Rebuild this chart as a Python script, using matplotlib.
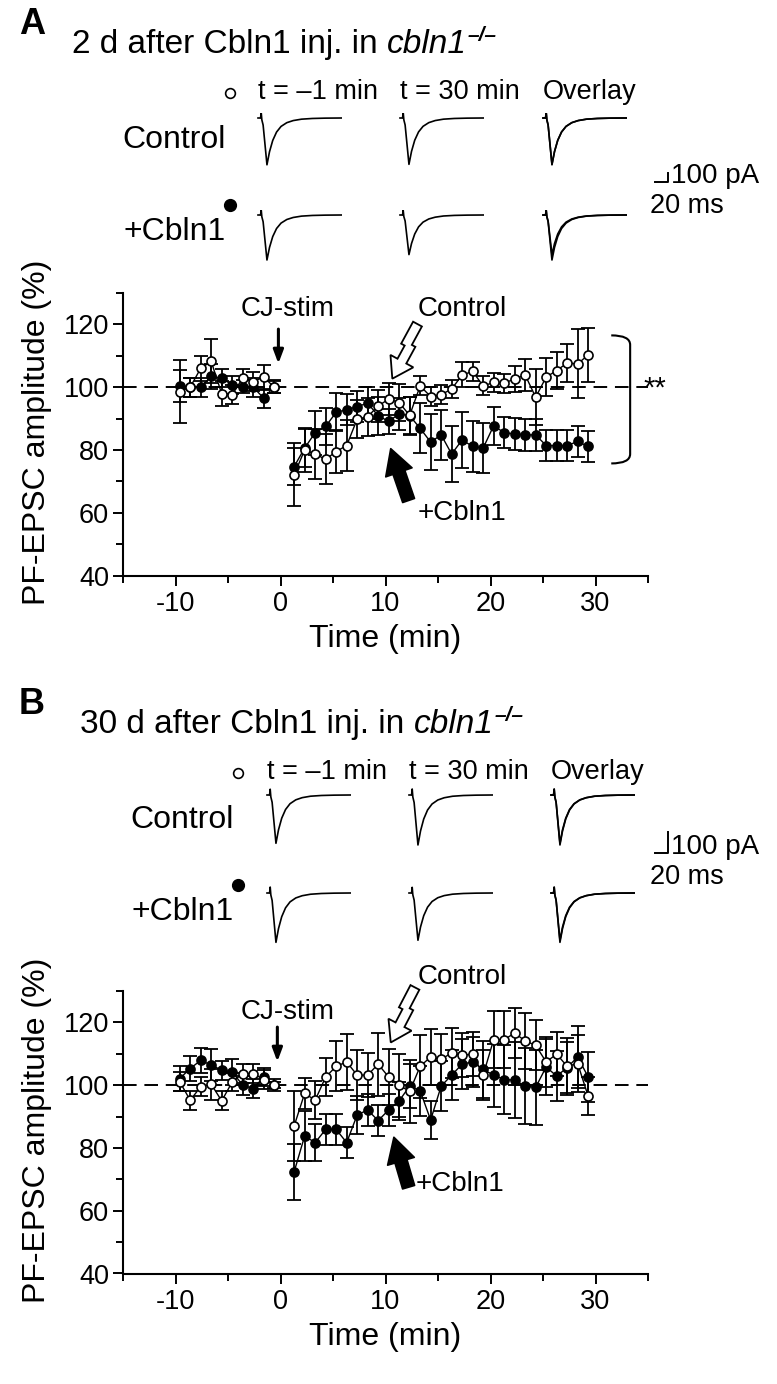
import numpy as np
import matplotlib.pyplot as plt
from matplotlib.path import Path
from matplotlib.patches import PathPatch, Polygon

W, H = 777, 1384
FONT = ['Liberation Sans', 'DejaVu Sans']
plt.rcParams['font.family'] = FONT
plt.rcParams['axes.unicode_minus'] = False

# ---- time points (min) ----
pre_t = [-9.6, -8.6, -7.6, -6.6, -5.6, -4.6, -3.6, -2.6, -1.6, -0.6]
post_t = [1.3, 2.3, 3.3, 4.3, 5.3, 6.3, 7.3, 8.3, 9.3, 10.3, 11.3, 12.3, 13.3, 14.3, 15.3,
          16.3, 17.3, 18.3, 19.3, 20.3, 21.3, 22.3, 23.3, 24.3, 25.3, 26.3, 27.3, 28.3, 29.3]

# ---- panel A (2 d) ----
a_pre_ctrl = [98.6, 100.0, 106.0, 108.2, 97.9, 97.6, 102.9, 101.8, 103.2, 100.0]
a_pre_ctrl_se = [10, 3, 4, 7, 4, 3, 3, 3, 4, 2]
a_pre_cbln = [100.4, 100.0, 100.0, 103.4, 102.9, 100.7, 100.2, 100.0, 96.5, 100.2]
a_pre_cbln_se = [5, 3, 3, 4, 3, 3, 2, 3, 3, 2]
a_ctrl = [72.1, 80.0, 78.7, 77.0, 79.5, 81.4, 89.8, 90.6, 94.0, 96.2, 95.1, 91.0, 100.4, 97.0,
          97.6, 99.4, 103.9, 105.0, 100.4, 101.5, 101.3, 102.6, 103.9, 96.8, 103.2, 105.3,
          107.7, 107.4, 110.3]
a_ctrl_se = [10, 7, 8, 8, 7, 8, 6, 6, 5, 5, 6, 6, 3, 3, 3, 3, 4, 3, 3, 3, 3, 4, 5, 9, 6, 6,
             6, 11, 8.5]
a_cbln = [74.7, 80.6, 85.5, 87.5, 92.0, 92.8, 93.8, 94.9, 90.9, 89.1, 91.5, 90.9, 86.9, 82.5,
          84.8, 78.7, 83.2, 81.1, 80.6, 87.7, 85.5, 85.1, 84.8, 84.8, 81.4, 81.4, 81.4, 82.7,
          81.1]
a_cbln_se = [6, 6, 7, 6, 6, 5, 5, 5, 6, 4, 5, 6, 8, 9, 8, 9, 9, 8, 8, 6, 5, 5, 5, 5, 5, 5,
             5, 5, 5]

# ---- panel B (30 d) ----
b_pre_ctrl = [101.1, 95.2, 99.5, 100.3, 95.0, 101.0, 103.7, 103.7, 101.8, 100.0]
b_pre_ctrl_se = [3, 3, 3, 5, 3, 3, 3, 3, 3, 2]
b_pre_cbln = [102.1, 105.3, 107.9, 106.4, 104.8, 104.2, 100.0, 98.9, 102.6, 100.0]
b_pre_cbln_se = [4, 4, 4, 5, 3, 4, 3, 3, 3, 1]
b_ctrl = [87.0, 97.4, 95.2, 102.6, 106.0, 107.4, 103.2, 103.2, 106.7, 102.6, 100.0, 98.0,
          106.0, 109.0, 108.2, 110.3, 109.5, 109.9, 103.2, 114.5, 114.5, 116.6, 114.1, 112.7,
          107.4, 109.9, 106.0, 106.9, 96.5]
b_ctrl_se = [11, 5, 6, 6, 8, 9, 8, 7, 10, 9, 10, 10, 10, 9, 8, 8, 7, 7, 8, 9, 9, 8, 9, 8, 8,
             7, 9, 9, 6]
b_cbln = [72.4, 83.8, 81.7, 85.9, 85.9, 81.7, 90.5, 92.1, 88.7, 92.1, 95.0, 99.7, 98.2, 88.9,
          99.7, 103.2, 106.7, 107.4, 105.0, 103.2, 101.8, 101.6, 99.7, 99.3, 105.8, 102.9,
          105.6, 109.0, 102.6]
b_cbln_se = [9, 8, 6, 5, 5, 5, 6, 5, 5, 5, 6, 7, 8, 6, 8, 8, 8, 8, 9, 10, 11, 12, 12, 12, 9,
             8, 8, 10, 8]

# ---- example EPSC traces (template) ----
trace_ms = [0, 4, 5, 6, 8, 14, 18, 23, 29, 36, 45, 55, 68, 85, 105, 130]
trace_shape = [0, 0, 0.12, -0.04, -0.15, -1.0, -0.72, -0.48, -0.30, -0.18, -0.10, -0.055,
               -0.025, -0.01, -0.003, 0]
# peak amplitudes (pA) for t = -1 min and t = 30 min
a_ctrl_amp = [520, 515]
a_cbln_amp = [500, 440]
b_ctrl_amp = [230, 238]
b_cbln_amp = [235, 225]

# outline of the hollow "bolt" arrow, px: (distance back from tip, sideways offset)
bolt_u = [0, 20, 20, 35, 35, 60, 60, 39, 39, 20, 20]
bolt_v = [0, 13, 5, 5, 9, 9, -1, -1, -5, -5, -13]

fig = plt.figure(figsize=(W / 100, H / 100), dpi=100)
canvas = fig.add_axes([0, 0, 1, 1], zorder=0)
canvas.set_xlim(0, W)
canvas.set_ylim(H, 0)
canvas.axis('off')


def px_axes(x0, y0, w, h, **kw):
    return fig.add_axes([x0 / W, 1 - (y0 + h) / H, w / W, h / H], **kw)


def bolt_arrow(ax, head, tail):
    hx, hy = ax.transData.transform(head)
    tx, ty = ax.transData.transform(tail)
    d = np.array([tx - hx, ty - hy])
    d = d / np.hypot(*d)
    n = np.array([-d[1], d[0]])
    pts = [(hx + u * d[0] + v * n[0], H - (hy + u * d[1] + v * n[1]))
           for u, v in zip(bolt_u, bolt_v)]
    canvas.add_patch(Polygon(pts, closed=True, fc='white', ec='black', lw=1.3,
                             joinstyle='miter', zorder=6))


def draw_header(letter, title_pre, dy, dx, xcols, base_ctrl, base_cbln, ctrl_amp, cbln_amp,
                pa_px, scale):
    canvas.text(19, 34 + dy, letter, fontsize=26, fontweight='bold', va='baseline')
    t = canvas.text(72 + dx, 53 + dy, title_pre, fontsize=24, va='baseline')
    c = canvas.annotate('cbln1', xycoords=t, xy=(1, 0), va='bottom', fontsize=24,
                        style='italic')
    canvas.annotate('\u2013/\u2013', xycoords=c, xy=(1, 1), xytext=(0.5, 2),
                    textcoords='offset points', va='top', fontsize=15,
                    fontweight='bold', style='italic')
    heads = ['t = \u20131 min', 't = 30 min', 'Overlay']
    for x, s in zip(xcols, heads):
        canvas.text(x, 99 + dy, s, fontsize=19.5, va='baseline')
    canvas.plot([230 + dx], [93 + dy], 'o', ms=7, mfc='white', mec='black', mew=1.2)
    canvas.plot([230 + dx], [205 + dy], 'o', ms=8.5, mfc='black', mec='black')
    canvas.text(226 + dx, 148 + dy, 'Control', fontsize=23, va='baseline', ha='right')
    canvas.text(226 + dx, 240 + dy, '+Cbln1', fontsize=23, va='baseline', ha='right')

    ms_px = 0.64
    for base, amps in ((base_ctrl, ctrl_amp), (base_cbln, cbln_amp)):
        ylo, yhi = -600, 60
        hpx = (yhi - ylo) * pa_px
        for i, x in enumerate(xcols):
            tax = px_axes(x - 3 * ms_px, base + dy - yhi * pa_px, 135 * ms_px, hpx)
            tax.set_xlim(-3, 132)
            tax.set_ylim(ylo, yhi)
            tax.axis('off')
            use = [amps[i]] if i < 2 else amps
            for a in use:
                tax.plot(trace_ms, [a * s for s in trace_shape], color='black', lw=1.2)

    sx, sy = scale
    sy = sy + dy
    sax = px_axes(sx, sy - 100 * pa_px, 20 * ms_px, 100 * pa_px)
    sax.set_xlim(0, 20)
    sax.set_ylim(0, 100)
    sax.axis('off')
    sax.plot([0, 20, 20], [0, 0, 100], color='black', lw=1.4, clip_on=False)
    canvas.text(sx + 20 * ms_px + 3, sy + 1, '100 pA', fontsize=20, va='baseline')
    canvas.text(sx - 5, sy + 31, '20 ms', fontsize=19.5, va='baseline')


def draw_series(ax, pre_y, pre_e, post_y, post_e, filled):
    fc = 'black' if filled else 'white'
    for tt, yy, ee in ((pre_t, pre_y, pre_e), (post_t, post_y, post_e)):
        ax.errorbar(tt, yy, yerr=ee, fmt='none', ecolor='black', elinewidth=1.3,
                    capsize=5, capthick=1.3, zorder=3)
        ax.plot(tt, yy, '-o', color='black', lw=1.0, ms=6.5, mfc=fc, mec='black',
                mew=1.2, zorder=4 if filled else 5)


def draw_panel(y_top, pre_c, pre_ce, post_c, post_ce, pre_b, pre_be, post_b, post_be,
               arrows, bracket):
    ax = px_axes(123, y_top, 525, 282.5, zorder=2)
    ax.patch.set_alpha(0)
    ax.set_xlim(-15, 35)
    ax.set_ylim(40, 130)
    for s in ('top', 'right'):
        ax.spines[s].set_visible(False)
    for s in ('left', 'bottom'):
        ax.spines[s].set_linewidth(1.5)
    ax.set_xticks([-10, 0, 10, 20, 30])
    ax.set_xticks([-15, -5, 5, 15, 25, 35], minor=True)
    ax.set_yticks([40, 60, 80, 100, 120])
    ax.set_yticks([50, 70, 90, 110, 130], minor=True)
    ax.tick_params(axis='y', which='major', length=7, width=1.4, labelsize=19.5, pad=3)
    ax.tick_params(axis='x', which='major', length=7, width=1.4, labelsize=19.5, pad=4)
    ax.tick_params(which='minor', length=5, width=1.4)
    ax.axhline(100, color='black', lw=1.4, dashes=(7, 4), zorder=1)

    draw_series(ax, pre_b, pre_be, post_b, post_be, True)
    draw_series(ax, pre_c, pre_ce, post_c, post_ce, False)

    (cj_xy, cj_txt), (c_tail, c_head, c_txt), (b_tail, b_head, b_txt) = arrows
    ax.annotate('', xy=(cj_xy, 107.5), xytext=(cj_xy, 118.5),
                arrowprops=dict(arrowstyle='-|>,head_length=0.8,head_width=0.3',
                                color='black', lw=2.2, shrinkA=0, shrinkB=0))
    ax.text(cj_txt[0], cj_txt[1], 'CJ-stim', fontsize=20, ha='center', va='center')
    bolt_arrow(ax, c_head, c_tail)
    ax.text(c_txt[0], c_txt[1], 'Control', fontsize=20, ha='center', va='center',
            clip_on=False)
    ax.annotate('', xy=b_head, xytext=b_tail, annotation_clip=False,
                arrowprops=dict(arrowstyle='simple,head_length=0.9,head_width=1.0,tail_width=0.45',
                                fc='black', ec='black', lw=1.2, shrinkA=0, shrinkB=0,
                                mutation_scale=20))
    ax.text(b_txt[0], b_txt[1], '+Cbln1', fontsize=20, ha='center', va='center')

    if bracket:
        x0, x1, y0, y1 = 31.5, 33.3, 75.7, 116.5
        verts = [(x0, y1), (x1, y1), (x1, y1 - 3), (x1, y0 + 3), (x1, y0), (x0, y0)]
        codes = [Path.MOVETO, Path.CURVE3, Path.CURVE3, Path.LINETO, Path.CURVE3, Path.CURVE3]
        ax.add_patch(PathPatch(Path(verts, codes), fill=False, lw=1.5, clip_on=False))
        ax.text(34.6, 99.5, '**', fontsize=21, ha='left', va='center', clip_on=False)

    canvas.text(385, y_top + 346, 'Time (min)', fontsize=23, ha='center', va='center')
    canvas.text(37, y_top + 139, 'PF-EPSC amplitude (%)', fontsize=23, rotation=90,
                ha='center', va='center')
    return ax


# ---- panel A ----
draw_header('A', '2 d after Cbln1 inj. in ', 0, 0, [258, 400, 543], 118, 215,
            a_ctrl_amp, a_cbln_amp, 0.09, (655, 182))
draw_panel(293, a_pre_ctrl, a_pre_ctrl_se, a_ctrl, a_ctrl_se,
           a_pre_cbln, a_pre_cbln_se, a_cbln, a_cbln_se,
           ((-0.2, (0.7, 124.8)),
            ((13.4, 119.6), (10.65, 102.7), (17.3, 125.0)),
            ((12.2, 63.9), (10.5, 80.4), (17.3, 59.8))),
           True)

# ---- panel B ----
draw_header('B', '30 d after Cbln1 inj. in ', 680, 8, [267, 409, 551], 115, 213,
            b_ctrl_amp, b_cbln_amp, 0.21, (655, 173))
draw_panel(991, b_pre_ctrl, b_pre_ctrl_se, b_ctrl, b_ctrl_se,
           b_pre_cbln, b_pre_cbln_se, b_cbln, b_cbln_se,
           ((-0.3, (0.7, 123.4)),
            ((12.9, 129.0), (10.5, 113.6), (17.3, 134.6)),
            ((12.2, 67.5), (10.8, 83.4), (17.1, 68.4))),
           False)

fig.savefig('out.png', dpi=100)
